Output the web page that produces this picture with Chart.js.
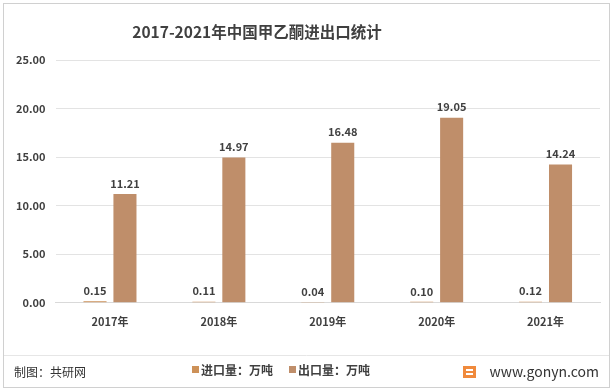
<!DOCTYPE html>
<html>
<head>
<meta charset="utf-8">
<script src="https://cdn.jsdelivr.net/npm/chart.js@4/dist/chart.umd.min.js"></script>
<style>
  html, body { margin: 0; padding: 0; background: #fff; }
  #wrap { width: 613px; height: 391px; position: relative; }
</style>
</head>
<body>
<div id="wrap"><canvas id="myChart" width="613" height="391"></canvas></div>
<script>
const years = ["2017年", "2018年", "2019年", "2020年", "2021年"];
const importVals = [0.15, 0.11, 0.04, 0.10, 0.12];
const exportVals = [11.21, 14.97, 16.48, 19.05, 14.24];
const seriesNames = ["进口量：万吨", "出口量：万吨"];
const seriesColors = ["#CD9158", "#BF8E6A"];

const FONT = "'Noto Sans CJK SC', 'Noto Sans', sans-serif";

// title, bar value labels, legend, frame and footer
const extras = {
  id: "extras",
  afterDatasetsDraw(chart) {
    const ctx = chart.ctx;
    ctx.save();
    ctx.font = "bold 11px " + FONT;
    ctx.fillStyle = "#404040";
    ctx.textAlign = "center";
    ctx.textBaseline = "bottom";
    chart.data.datasets.forEach((ds, i) => {
      chart.getDatasetMeta(i).data.forEach((bar, j) => {
        ctx.fillText(ds.data[j].toFixed(2), bar.x, bar.y - 5);
      });
    });
    ctx.restore();
  },
  afterDraw(chart) {
    const ctx = chart.ctx;
    ctx.save();
    // title
    ctx.font = "bold 15.5px " + FONT;
    ctx.fillStyle = "#404040";
    ctx.textAlign = "center";
    ctx.textBaseline = "middle";
    ctx.fillText("2017-2021年中国甲乙酮进出口统计", 257, 32);

    ctx.strokeStyle = "#d0d0d0";
    ctx.lineWidth = 1;
    ctx.strokeRect(3.5, 3.5, 606, 384);
    ctx.strokeStyle = "#e6e6e6";
    ctx.beginPath();
    ctx.moveTo(4, 355.5);
    ctx.lineTo(609, 355.5);
    ctx.stroke();

    // legend
    ctx.font = "bold 12px " + FONT;
    ctx.textAlign = "left";
    let lx = 192;
    seriesNames.forEach((name, i) => {
      ctx.fillStyle = seriesColors[i];
      ctx.fillRect(lx, 366, 7, 7);
      ctx.fillStyle = "#404040";
      ctx.fillText(name, lx + 9, 370);
      lx += 9 + ctx.measureText(name).width + 16;
    });

    // footer
    ctx.font = "12px " + FONT;
    ctx.fillStyle = "#333";
    ctx.fillText("制图：共研网", 14, 372);
    ctx.textAlign = "right";
    ctx.font = "14px " + FONT;
    ctx.fillText("www.gonyn.com", 599, 372);
    ctx.fillStyle = "#f08a3c";
    ctx.fillRect(463, 366, 13, 12);
    ctx.fillStyle = "#fff";
    ctx.fillRect(466, 369, 7, 2);
    ctx.fillRect(466, 373, 7, 2);
    ctx.restore();
  }
};

new Chart(document.getElementById("myChart"), {
  type: "bar",
  data: {
    labels: years,
    datasets: [
      { label: seriesNames[0], data: importVals, backgroundColor: seriesColors[0] },
      { label: seriesNames[1], data: exportVals, backgroundColor: seriesColors[1] }
    ]
  },
  plugins: [extras],
  options: {
    responsive: false,
    animation: false,
    events: [],
    layout: { padding: { left: 6, right: 13, top: 60, bottom: 51 } },
    datasets: { bar: { categoryPercentage: 0.55, barPercentage: 0.77 } },
    plugins: {
      title: { display: false },
      legend: { display: false },
      tooltip: { enabled: false }
    },
    scales: {
      x: {
        grid: { display: false, drawTicks: false },
        border: { color: "#d9d9d9" },
        ticks: { color: "#404040", font: { family: FONT, size: 11, weight: "bold" }, padding: 12 }
      },
      y: {
        min: 0, max: 25,
        grid: { color: "#e3e3e3", drawTicks: false },
        border: { display: false },
        ticks: {
          stepSize: 5,
          color: "#404040",
          font: { family: FONT, size: 11, weight: "bold" },
          padding: 10,
          callback: v => v.toFixed(2)
        }
      }
    }
  }
});
</script>
</body>
</html>
